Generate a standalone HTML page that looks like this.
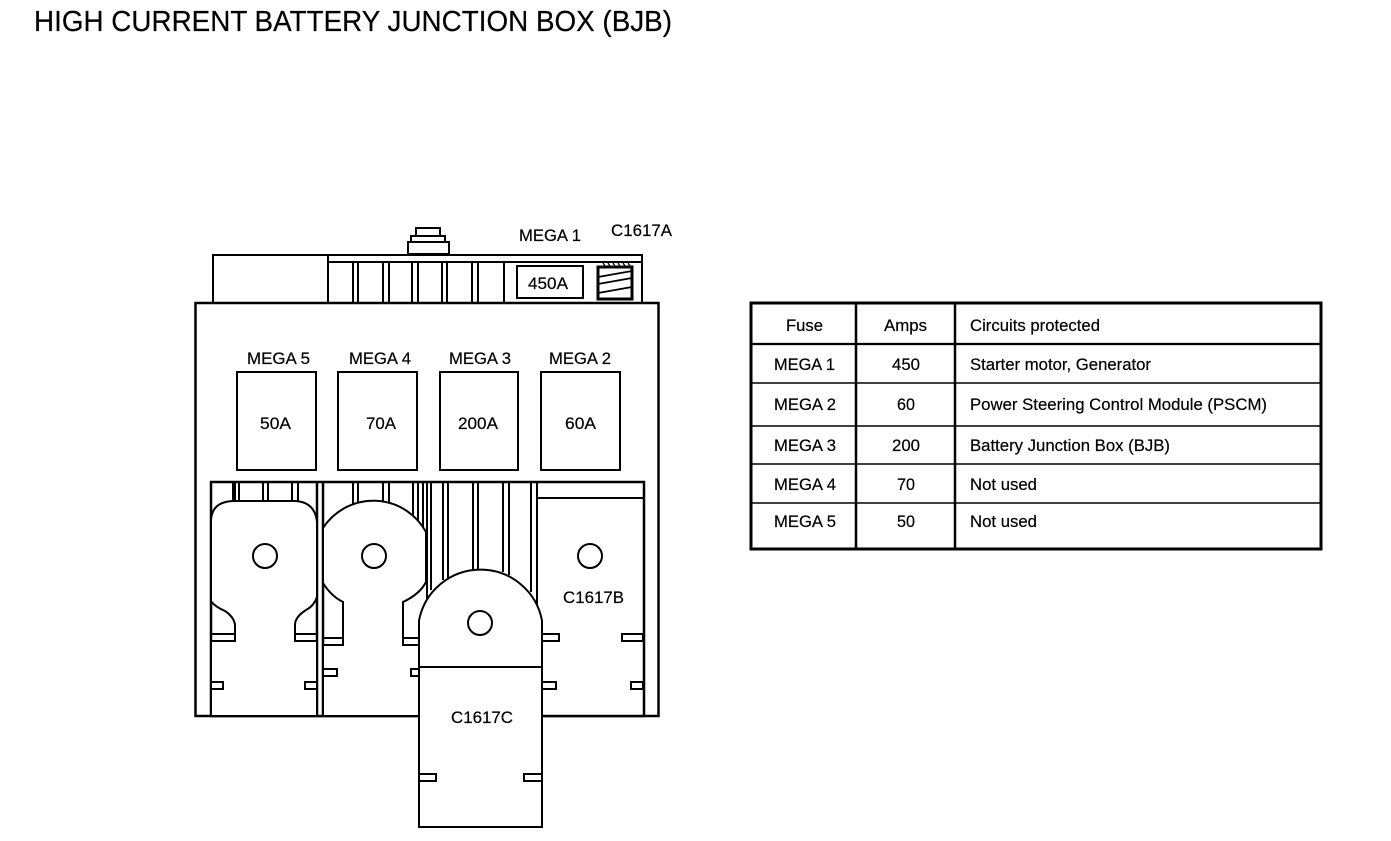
<!DOCTYPE html>
<html lang="en">
<head>
<meta charset="utf-8">
<title>High Current Battery Junction Box (BJB)</title>
<style>
html,body{margin:0;padding:0;background:#fff;width:1391px;height:841px;overflow:hidden}
svg{display:block;filter:blur(0.35px)}
text{font-family:"Liberation Sans",Arial,sans-serif;font-size:17px;fill:#000;stroke:#000;stroke-width:0.2}
.s{fill:none;stroke:#000;stroke-width:2}
.w{fill:#fff;stroke:#000;stroke-width:2}
</style>
</head>
<body>
<svg width="1391" height="841" viewBox="0 0 1391 841" xmlns="http://www.w3.org/2000/svg">
<rect width="1391" height="841" fill="#fff"/>
<text x="34" y="31" style="font-size:29px" textLength="638" lengthAdjust="spacingAndGlyphs">HIGH CURRENT BATTERY JUNCTION BOX (BJB)</text>

<!-- top connector -->
<rect class="w" x="416" y="228" width="24" height="8"/>
<rect class="w" x="411" y="236" width="34" height="6"/>
<rect class="w" x="408" y="242" width="41" height="12"/>
<rect class="w" x="213" y="255" width="429" height="48"/>
<path class="s" d="M328 255V303M328 262H642"/>
<path class="s" d="M353 262V303M358 262V303M383 262V303M389 262V303M412 262V303M418 262V303M442 262V303M447 262V303M472 262V303M478 262V303M504 262V303"/>
<rect class="w" x="517" y="266" width="66" height="32"/>
<text x="528" y="289" textLength="40" lengthAdjust="spacingAndGlyphs">450A</text>
<rect class="w" x="598" y="267" width="34" height="32" style="stroke-width:3"/>
<path class="s" d="M598 277L632 271M598 284L632 278M598 293L632 287" style="stroke-width:1.800"/>
<path class="s" d="M603 263L605 266M608 263L610 266M613 263L615 266M618 263L620 266M623 263L625 266M628 263L630 266" style="stroke-width:1.200"/>

<!-- main body -->
<rect x="195.500" y="303" width="463" height="413" fill="#fff" stroke="#000" stroke-width="2.500"/>

<!-- fuses -->
<rect class="w" x="237" y="372" width="79" height="98"/>
<rect class="w" x="338" y="372" width="79" height="98"/>
<rect class="w" x="440" y="372" width="78" height="98"/>
<rect class="w" x="541" y="372" width="79" height="98"/>
<text x="519" y="241" textLength="62" lengthAdjust="spacingAndGlyphs">MEGA 1</text>
<text x="611" y="236" textLength="61" lengthAdjust="spacingAndGlyphs">C1617A</text>
<text x="247" y="364" textLength="63" lengthAdjust="spacingAndGlyphs">MEGA 5</text>
<text x="349" y="364" textLength="62" lengthAdjust="spacingAndGlyphs">MEGA 4</text>
<text x="449" y="364" textLength="62" lengthAdjust="spacingAndGlyphs">MEGA 3</text>
<text x="549" y="364" textLength="62" lengthAdjust="spacingAndGlyphs">MEGA 2</text>
<text x="260" y="429" textLength="31" lengthAdjust="spacingAndGlyphs">50A</text>
<text x="366" y="429" textLength="30" lengthAdjust="spacingAndGlyphs">70A</text>
<text x="458" y="429" textLength="40" lengthAdjust="spacingAndGlyphs">200A</text>
<text x="565" y="429" textLength="31" lengthAdjust="spacingAndGlyphs">60A</text>

<!-- lower bay -->
<rect x="211" y="482" width="433" height="234" fill="#fff" stroke="#000" stroke-width="2.500"/>
<path class="s" d="M317 482V716M323 482V716" style="stroke-width:2.500"/>
<path class="s" d="M233 482V502M235 482V502M239 482V502M263 482V502M268 482V502M292 482V502M298 482V502"/>
<path class="s" d="M353 482V505M358 482V503M383 482V503M389 482V505M413 482V518M418 482V522M423 482V528"/>
<path class="s" d="M427 482V600M431 482V590M443 482V580M448 482V578M473 482V570M478 482V570M503 482V572M509 482V575M531 482V592M537 482V606"/>

<!-- terminal 1 -->
<path class="w" d="M211 520Q212 501 235 501H295Q315 502 317 522V597Q314 606 306 610Q295 617 295 625V641H317V716H211V641H235V625Q234 617 225 611Q214 606 211 601Z"/>
<path class="s" d="M211 634H235M295 634H317"/>
<circle class="w" cx="265" cy="556" r="12"/>
<rect class="w" x="211" y="682" width="12" height="7"/>
<rect class="w" x="305" y="682" width="12" height="7"/>

<!-- terminal 2 -->
<path class="w" d="M323 528A60 60 0 0 1 426 532V582Q420 594 403 602V645H426V716H323V645H343V602Q331 596 323 583Z"/>
<path class="s" d="M323 638H343M403 638H426"/>
<circle class="w" cx="374" cy="556" r="12"/>
<rect class="w" x="323" y="669" width="14" height="7"/>
<rect class="w" x="411" y="669" width="12" height="7"/>

<!-- C1617B -->
<path class="s" d="M537 498H644"/>
<circle class="w" cx="590" cy="556" r="12"/>
<text x="563" y="603" textLength="61" lengthAdjust="spacingAndGlyphs">C1617B</text>
<rect class="w" x="542" y="634" width="17" height="7"/>
<rect class="w" x="622" y="634" width="21" height="7"/>
<rect class="w" x="542" y="682" width="14" height="7"/>
<rect class="w" x="631" y="682" width="12" height="7"/>

<!-- C1617C -->
<path class="w" d="M419 827V620.500A62.600 62.600 0 0 1 542 620.500V827Z"/>
<path class="s" d="M419 667H542"/>
<circle class="w" cx="480" cy="623" r="12"/>
<text x="451" y="723" textLength="62" lengthAdjust="spacingAndGlyphs">C1617C</text>
<rect class="w" x="419" y="774" width="17" height="7"/>
<rect class="w" x="524" y="774" width="18" height="7"/>

<!-- table -->
<rect x="751" y="303" width="570" height="246" fill="#fff" stroke="#000" stroke-width="3"/>
<path class="s" d="M856 303V549M955 303V549" style="stroke-width:2.500"/>
<path class="s" d="M751 344H1321" style="stroke-width:2.200"/>
<path class="s" d="M751 383H1321M751 426H1321M751 464H1321M751 503H1321" style="stroke-width:1.400"/>

<text x="786" y="331" textLength="37" lengthAdjust="spacingAndGlyphs">Fuse</text>
<text x="884" y="331" textLength="43" lengthAdjust="spacingAndGlyphs">Amps</text>
<text x="970" y="331" textLength="130" lengthAdjust="spacingAndGlyphs">Circuits protected</text>

<text x="774" y="370" textLength="61" lengthAdjust="spacingAndGlyphs">MEGA 1</text>
<text x="892" y="370" textLength="28" lengthAdjust="spacingAndGlyphs">450</text>
<text x="970" y="370" textLength="181" lengthAdjust="spacingAndGlyphs">Starter motor, Generator</text>

<text x="774" y="410" textLength="62" lengthAdjust="spacingAndGlyphs">MEGA 2</text>
<text x="897" y="410" textLength="18" lengthAdjust="spacingAndGlyphs">60</text>
<text x="970" y="410" textLength="297" lengthAdjust="spacingAndGlyphs">Power Steering Control Module (PSCM)</text>

<text x="774" y="451" textLength="62" lengthAdjust="spacingAndGlyphs">MEGA 3</text>
<text x="892" y="451" textLength="28" lengthAdjust="spacingAndGlyphs">200</text>
<text x="970" y="451" textLength="200" lengthAdjust="spacingAndGlyphs">Battery Junction Box (BJB)</text>

<text x="774" y="490" textLength="62" lengthAdjust="spacingAndGlyphs">MEGA 4</text>
<text x="897" y="490" textLength="18" lengthAdjust="spacingAndGlyphs">70</text>
<text x="970" y="490" textLength="67" lengthAdjust="spacingAndGlyphs">Not used</text>

<text x="774" y="527" textLength="62" lengthAdjust="spacingAndGlyphs">MEGA 5</text>
<text x="897" y="527" textLength="18" lengthAdjust="spacingAndGlyphs">50</text>
<text x="970" y="527" textLength="67" lengthAdjust="spacingAndGlyphs">Not used</text>
</svg>
</body>
</html>
